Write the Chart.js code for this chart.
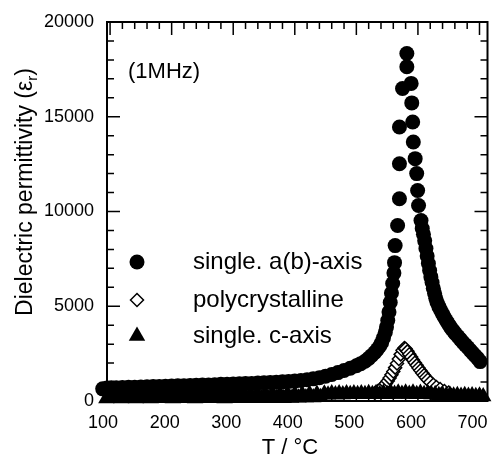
<!DOCTYPE html>
<html>
<head>
<meta charset="utf-8">
<script src="https://cdn.jsdelivr.net/npm/chart.js@4.4.0/dist/chart.umd.min.js"></script>
<style>
  html, body { margin: 0; padding: 0; background: #fff; }
  canvas { display: block; }
</style>
</head>
<body>
<canvas id="grafico" width="497" height="465"></canvas>
<script>
// single crystal, a(b)-axis (filled circles)
const abTemp = [88, 95, 102, 110, 120, 130, 140, 150, 160, 170, 180, 190, 200, 210, 220, 230, 240, 250, 260, 270,
  280, 290, 300, 310, 320, 330, 340, 350, 360, 370, 380, 390, 400, 410, 420, 430, 440, 450, 460, 470, 480, 490, 500,
  507, 514, 520, 525, 530, 534, 538, 541, 544, 547, 549, 551, 553, 555, 557, 559, 561, 562, 563,
  567, 570, 570, 570, 575, 582, 582,
  589, 590, 591.5, 592.5, 595.5, 598, 599.5, 601, 605,
  607, 609, 611, 613, 615, 617, 619, 621, 623, 625, 627, 629, 631,
  634, 637, 640, 643, 646, 649, 652, 655, 658, 661,
  665, 669, 673, 677, 681, 685, 689, 693, 697, 701];
const abEps = [640, 680, 700, 700, 710, 720, 730, 740, 750, 760, 770, 780, 790, 800, 810, 820, 830, 840, 850, 860,
  880, 890, 900, 910, 920, 930, 950, 960, 980, 990, 1010, 1030, 1050, 1080, 1120, 1170, 1230, 1310, 1400, 1500, 1610, 1730, 1860,
  1970, 2100, 2250, 2400, 2560, 2720, 2900, 3080, 3330, 3620, 3900, 4250, 4700, 5200, 5700, 6200, 6750, 7300, 8200,
  9260, 10670, 12520, 14460, 16490, 17640, 18340,
  16760, 15730, 14720, 13670, 12790, 12000, 11110, 10320, 9520,
  9100, 8800, 8450, 8050, 7650, 7250, 6880, 6550, 6250, 5950, 5680, 5420, 5200,
  4980, 4780, 4600, 4420, 4250, 4090, 3940, 3800, 3680, 3550,
  3400, 3250, 3100, 2960, 2820, 2670, 2530, 2390, 2250, 2080];

// polycrystalline (open diamonds)
const polyTemp = [530, 535, 540, 544, 548, 551, 554, 557, 560, 563, 566, 569, 572, 575, 578,
  580, 583, 586, 589, 592, 595, 598, 601, 604, 607, 610, 613, 616,
  620, 625, 630, 636, 643, 650];
const polyEps = [420, 530, 650, 780, 920, 1060, 1210, 1380, 1560, 1760, 1980, 2220, 2460, 2680, 2790,
  2760, 2620, 2470, 2320, 2170, 2020, 1880, 1740, 1610, 1480, 1360, 1240, 1120,
  990, 860, 740, 630, 530, 450];

// single crystal, c-axis (filled triangles)
const cTemp = [88, 94, 100, 106, 112, 118, 124, 130, 136, 142, 148, 154, 160, 166, 172, 178, 184, 190, 196, 202,
  208, 214, 220, 226, 232, 238, 244, 250, 256, 262, 268, 274, 280, 286, 292, 298, 304, 310, 316, 322,
  328, 334, 340, 346, 352, 358, 364, 370, 376, 382, 388, 394, 400, 406, 412, 418, 424, 430, 436, 442,
  448, 454, 460, 466, 472, 478, 484, 490, 496, 502, 508, 514, 520, 526, 532, 538, 544, 550, 556, 562,
  568, 574, 580, 586, 592, 598, 604, 610, 616, 622, 628, 634, 640, 646, 652, 658, 664, 670, 676, 682,
  688, 694, 700, 706];
const cEps = [330, 130, 340, 140, 330, 130, 340, 140, 330, 130, 340, 140, 330, 130, 340, 140, 330, 140, 340, 130,
  340, 140, 330, 140, 340, 130, 340, 140, 330, 140, 340, 140, 340, 130, 330, 140, 340, 140, 340, 140,
  350, 140, 340, 140, 350, 140, 350, 140, 350, 150, 360, 160, 360, 170, 360, 180, 370, 190, 370, 200,
  380, 330, 390, 340, 390, 340, 400, 350, 400, 350, 400, 350, 410, 360, 410, 360, 420, 360, 430, 370,
  440, 370, 440, 370, 430, 360, 420, 350, 400, 340, 350, 300, 330, 290, 320, 280, 310, 270, 300, 260,
  290, 250, 280, 240];

const xTicks = [100, 200, 300, 400, 500, 600, 700];
const yTicks = [0, 5000, 10000, 15000, 20000];
const seriesLabels = ["single. a(b)-axis", "polycrystalline", "single. c-axis"];

const fonte = "'Liberation Sans', Arial, Helvetica, sans-serif";
Chart.defaults.font.family = fonte;
Chart.defaults.color = "#000";

const pontos = (xs, ys) => xs.map((t, i) => ({ x: t, y: ys[i] }));

// frame, inward ticks, titles, note and legend
const moldura = {
  id: "moldura",
  afterDraw(chart) {
    const { ctx, chartArea: a, scales: { x, y } } = chart;
    ctx.save();
    ctx.strokeStyle = "#000";
    ctx.lineCap = "butt";

    ctx.lineWidth = 1.5;
    ctx.beginPath();
    for (let v = 100; v <= 700; v += 20) {
      const px = x.getPixelForValue(v);
      const len = v % 100 === 0 ? 13 : 7;
      ctx.moveTo(px, a.top); ctx.lineTo(px, a.top + len);
      ctx.moveTo(px, a.bottom); ctx.lineTo(px, a.bottom - len);
    }
    for (let v = 0; v <= 20000; v += 1000) {
      const py = y.getPixelForValue(v);
      const len = v % 5000 === 0 ? 13 : 7;
      ctx.moveTo(a.left, py); ctx.lineTo(a.left + len, py);
      ctx.moveTo(a.right, py); ctx.lineTo(a.right - len, py);
    }
    ctx.stroke();

    ctx.lineWidth = 2;
    ctx.strokeRect(a.left, a.top, a.right - a.left, a.bottom - a.top);

    ctx.fillStyle = "#000";
    ctx.textBaseline = "middle";
    ctx.textAlign = "left";
    ctx.font = "22px " + fonte;
    ctx.fillText("(1MHz)", 128, 72);

    const linhas = [262, 300, 336];
    chart.data.datasets.forEach((ds, i) => {
      ctx.fillStyle = ds.backgroundColor;
      ctx.strokeStyle = ds.borderColor;
      ctx.lineWidth = ds.borderWidth;
      Chart.helpers.drawPoint(ctx, {
        pointStyle: ds.pointStyle, radius: ds.pointRadius, borderWidth: ds.borderWidth, rotation: 0
      }, 137, linhas[i]);
      ctx.fillStyle = "#000";
      ctx.font = "24px " + fonte;
      ctx.fillText(ds.label, 193, linhas[i]);
    });

    ctx.textAlign = "center";
    ctx.font = "22px " + fonte;
    ctx.fillText("T / °C", 290, 448);

    // y title with subscript r
    ctx.save();
    ctx.translate(24, 192);
    ctx.rotate(-Math.PI / 2);
    ctx.textAlign = "left";
    ctx.textBaseline = "alphabetic";
    const fTit = "23px " + fonte;
    const fSub = "15px " + fonte;
    const parte1 = "Dielectric permittivity (ε";
    ctx.font = fTit;
    const w1 = ctx.measureText(parte1).width;
    const w3 = ctx.measureText(")").width;
    ctx.font = fSub;
    const w2 = ctx.measureText("r").width;
    let px = -(w1 + w2 + w3) / 2;
    ctx.font = fTit;
    ctx.fillText(parte1, px, 8);
    px += w1;
    ctx.font = fSub;
    ctx.fillText("r", px, 13);
    px += w2;
    ctx.font = fTit;
    ctx.fillText(")", px, 8);
    ctx.restore();

    ctx.restore();
  }
};

new Chart(document.getElementById("grafico"), {
  type: "scatter",
  data: {
    datasets: [{
      label: seriesLabels[0],
      data: pontos(abTemp, abEps),
      pointStyle: "circle",
      pointRadius: 7.5,
      backgroundColor: "#000",
      borderColor: "#000",
      borderWidth: 0,
      order: 0,
      clip: false
    }, {
      label: seriesLabels[1],
      data: pontos(polyTemp, polyEps),
      pointStyle: "rectRot",
      pointRadius: 6.5,
      backgroundColor: "#fff",
      borderColor: "#000",
      borderWidth: 1.5,
      order: 2,
      clip: false
    }, {
      label: seriesLabels[2],
      data: pontos(cTemp, cEps),
      pointStyle: "triangle",
      pointRadius: 9.5,
      backgroundColor: "#000",
      borderColor: "#000",
      borderWidth: 0,
      order: 1,
      clip: false
    }]
  },
  options: {
    responsive: false,
    animation: false,
    layout: { padding: { top: 22, right: 5, left: 0, bottom: 0 } },
    plugins: {
      legend: { display: false },
      tooltip: { enabled: false }
    },
    scales: {
      x: {
        type: "linear",
        min: 95,
        max: 713,
        afterBuildTicks: s => { s.ticks = xTicks.map(v => ({ value: v })); },
        afterFit: s => { s.height = 64; s.paddingLeft = 0; s.paddingRight = 0; },
        grid: { display: false, drawTicks: false },
        border: { display: false },
        ticks: { color: "#000", font: { size: 18 }, padding: 11, labelOffset: -7, maxRotation: 0, callback: v => String(v) }
      },
      y: {
        type: "linear",
        min: 0,
        max: 20000,
        afterBuildTicks: s => { s.ticks = yTicks.map(v => ({ value: v })); },
        afterFit: s => { s.width = 107; s.paddingTop = 0; s.paddingBottom = 0; },
        grid: { display: false, drawTicks: false },
        border: { display: false },
        ticks: { color: "#000", font: { size: 18 }, padding: 13, callback: v => String(v) }
      }
    }
  },
  plugins: [moldura]
});
</script>
</body>
</html>
